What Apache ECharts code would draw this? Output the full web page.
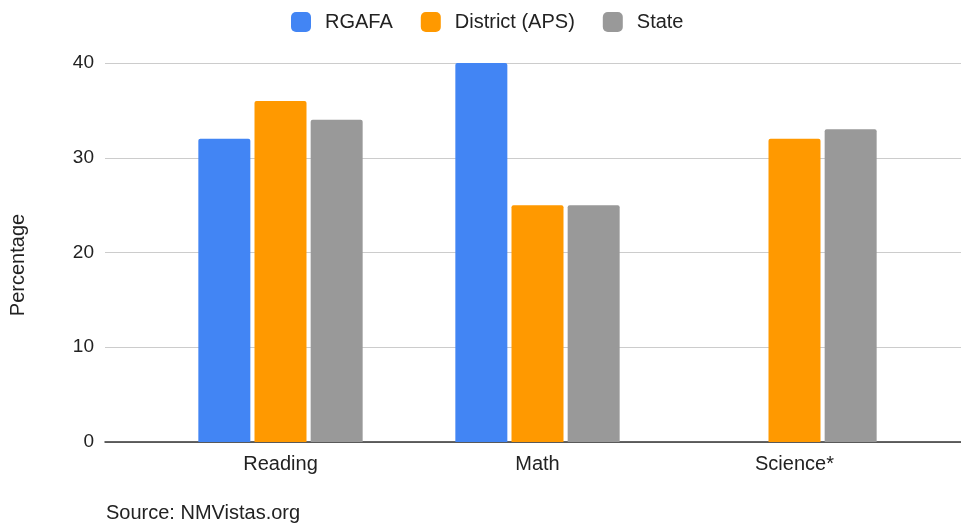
<!DOCTYPE html>
<html>
<head>
<meta charset="utf-8">
<script src="https://cdn.jsdelivr.net/npm/echarts@6/dist/echarts.min.js"></script>
<style>html,body{margin:0;padding:0;background:#fff}#c{width:961px;height:527px}</style>
</head>
<body>
<div id="c"></div>
<script>
var categories = ['Reading', 'Math', 'Science*'];
var rgafa = [32, 40, null];
var district = [36, 25, 32];
var state = [34, 25, 33];
var seriesNames = ['RGAFA', 'District (APS)', 'State'];
var yTicks = [0, 10, 20, 30, 40];
var yTitle = 'Percentage';
var sourceText = 'Source: NMVistas.org';

var FONT = 'Arial, "Liberation Sans", sans-serif';
var chart = echarts.init(document.getElementById('c'));
var colors = ['#4285f4', '#ff9900', '#999999'];
function bar(name, data, i) {
  return {
    name: name, type: 'bar', data: data, xAxisIndex: 1, yAxisIndex: 1,
    barWidth: 52, barGap: '8%',
    itemStyle: { color: colors[i], borderRadius: [2, 2, 0, 0] },
    emphasis: { disabled: true }
  };
}
chart.setOption({
  animation: false,
  textStyle: { fontFamily: FONT },
  legend: {
    top: 7, left: 286,
    itemWidth: 20, itemHeight: 20, itemGap: 28,
    icon: 'roundRect',
    textStyle: { fontSize: 20, color: '#222', fontFamily: FONT, padding: [0, 0, 0, 9] },
    data: seriesNames
  },
  grid: [
    { left: 105, right: 0, top: 63, bottom: 85 },
    { left: 152, right: 38, top: 63, bottom: 85 }
  ],
  xAxis: [
    { gridIndex: 0, type: 'category', data: categories, axisLabel: { show: false }, axisTick: { show: false },
      axisLine: { lineStyle: { color: '#333', width: 1.5 } } },
    { gridIndex: 1, type: 'category', data: categories, axisTick: { show: false }, axisLine: { show: false },
      axisLabel: { fontSize: 20, color: '#222', margin: 12, fontFamily: FONT } }
  ],
  yAxis: [
    { gridIndex: 0, type: 'value', min: yTicks[0], max: yTicks[yTicks.length - 1], interval: 10,
      axisLine: { show: false }, axisTick: { show: false },
      splitLine: { lineStyle: { color: '#cccccc', width: 1 } },
      axisLabel: { fontSize: 19, color: '#222', margin: 11, fontFamily: FONT } },
    { gridIndex: 1, type: 'value', min: yTicks[0], max: yTicks[yTicks.length - 1], interval: 10,
      axisLine: { show: false }, axisTick: { show: false }, splitLine: { show: false }, axisLabel: { show: false } }
  ],
  graphic: [
    { type: 'text', x: 18, y: 265, rotation: Math.PI / 2,
      style: { text: yTitle, fontSize: 20, fill: '#222', fontFamily: FONT, align: 'center', verticalAlign: 'middle' } },
    { type: 'text', left: 106, top: 503,
      style: { text: sourceText, fontSize: 20, fill: '#222', fontFamily: FONT } }
  ],
  series: [bar(seriesNames[0], rgafa, 0), bar(seriesNames[1], district, 1), bar(seriesNames[2], state, 2)]
});
</script>
</body>
</html>
